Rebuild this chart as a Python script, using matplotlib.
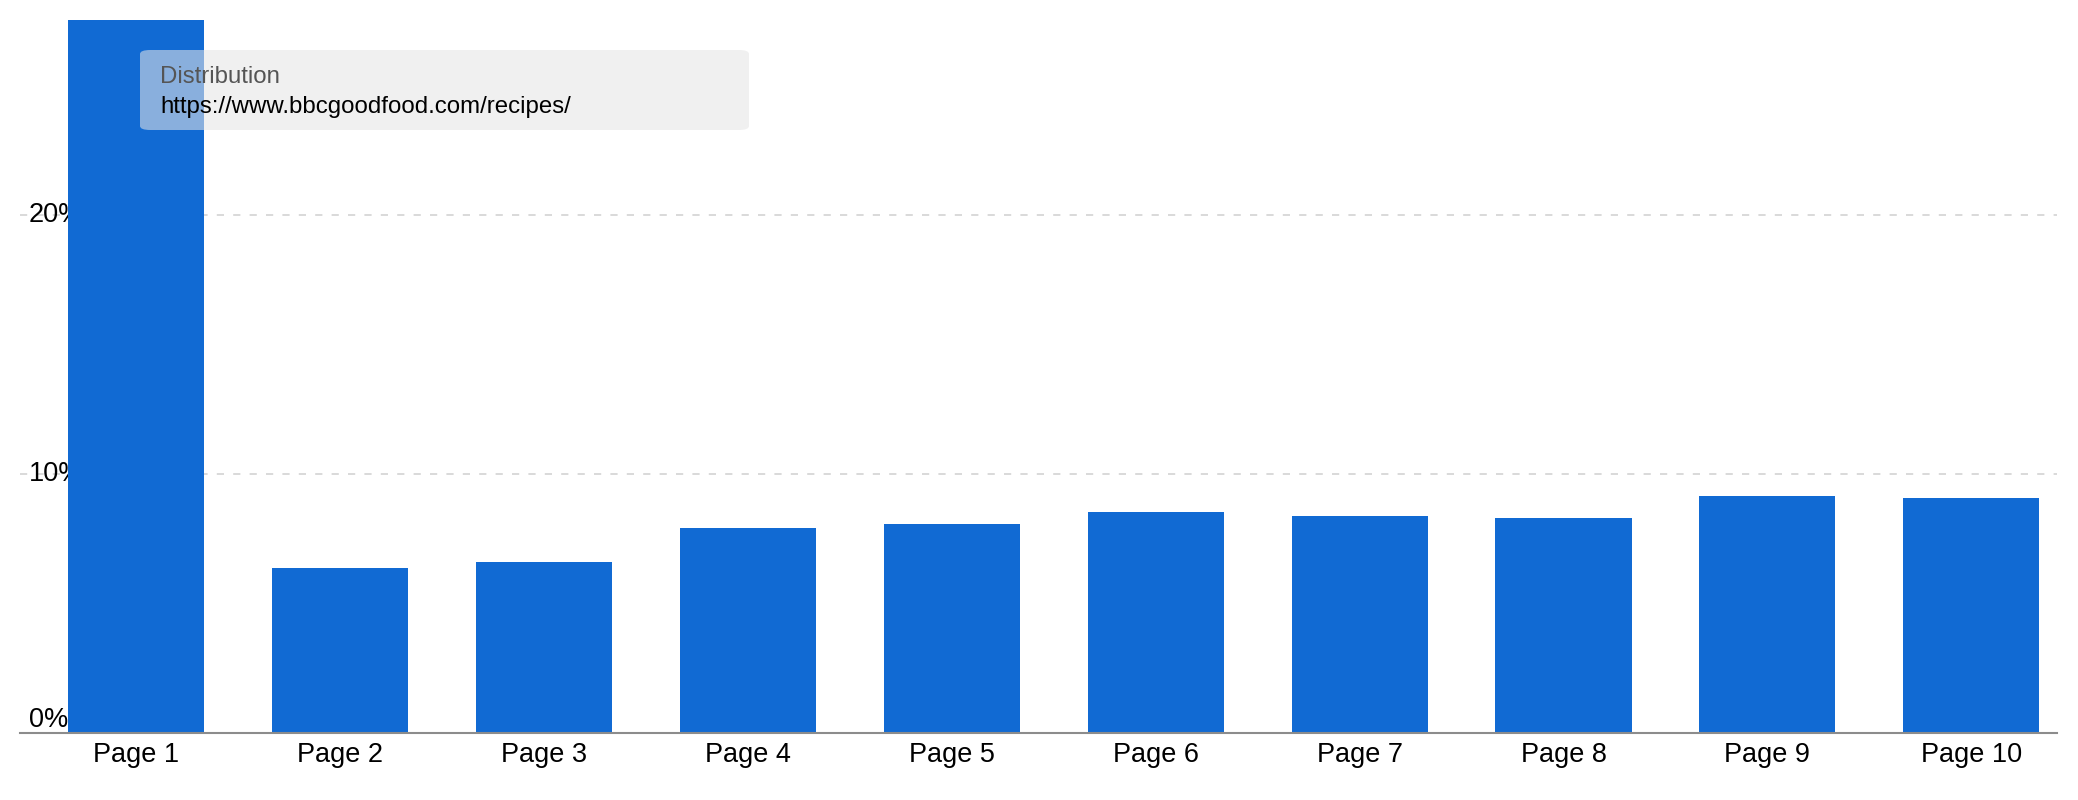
import matplotlib.pyplot as plt
from matplotlib.patches import FancyBboxPatch
from matplotlib.transforms import blended_transform_factory, IdentityTransform
import numpy as np

plt.rcParams['font.family'] = ['Liberation Sans', 'DejaVu Sans']

# data (percent)
pages = ['Page 1', 'Page 2', 'Page 3', 'Page 4', 'Page 5',
         'Page 6', 'Page 7', 'Page 8', 'Page 9', 'Page 10']
share = [29.0, 6.37, 6.60, 7.92, 8.07, 8.53, 8.38, 8.30, 9.15, 9.07]
yticks = [0, 10, 20]
tooltip_title = 'Distribution'
tooltip_text = 'https://www.bbcgoodfood.com/recipes/'

W, H = 2078, 800
fig = plt.figure(figsize=(W / 100, H / 100), dpi=100)
ax = fig.add_axes([20 / W, 67 / H, (2057 - 20) / W, (733 - 20) / H])

x = np.arange(len(pages))
ax.bar(x, share, width=0.667, color='#116ad3', zorder=3)

ax.set_xlim(-0.569, 9.42)
ax.set_ylim(0, 27.53)

# gridlines
for t in yticks[1:]:
    ax.axhline(t, color='#dadada', lw=1.44, dashes=(3.6, 4.6), zorder=1)
ax.axhline(0, color='#8c8c8c', lw=1.5, zorder=4, clip_on=False)

# y labels sit inside the plot, behind the bars
trans = blended_transform_factory(IdentityTransform(), ax.transData)
for t in yticks:
    ax.text(29, t, '{}%'.format(t), transform=trans,
            ha='left', va='bottom' if t == 0 else 'center', fontsize=19.5,
            color='#000000', zorder=2)

ax.set_xticks(x)
ax.set_xticklabels(pages, fontsize=19.5)
ax.tick_params(axis='x', length=0, pad=6.5)
ax.set_yticks([])
for s in ax.spines.values():
    s.set_visible(False)

# tooltip box
box = FancyBboxPatch((140 / W, 1 - 130 / H), (749 - 140) / W, 80 / H,
                     boxstyle='round,pad=0,rounding_size=0.005',
                     transform=fig.transFigure, facecolor='#e5e5e5',
                     edgecolor='none', alpha=0.57, zorder=10)
fig.patches.append(box)
fig.text(160 / W, 1 - 77 / H, tooltip_title, fontsize=17.3, color='#555555',
         va='center', ha='left', zorder=11)
fig.text(160 / W, 1 - 107 / H, tooltip_text, fontsize=17.3, color='#000000',
         va='center', ha='left', zorder=11)

fig.savefig('out.png', dpi=100)
